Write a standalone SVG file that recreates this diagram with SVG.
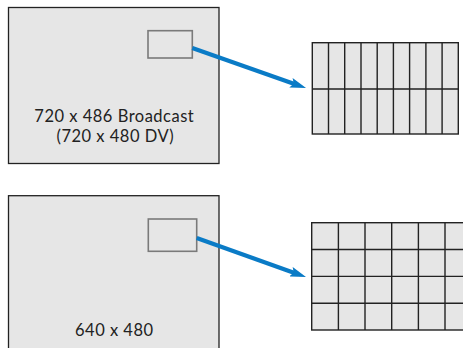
<svg xmlns="http://www.w3.org/2000/svg" width="463" height="348" viewBox="0 0 463 348">
<defs>
<style>
.frame{fill:#e6e6e6;stroke:#222;stroke-width:1.3}
.win{fill:#e6e6e6;stroke:#7a7a7a;stroke-width:1.6}
.cell{fill:#e6e6e6;stroke:#222;stroke-width:1.4}
.lbl{font-family:Lato,"Open Sans",sans-serif;font-size:16.5px;letter-spacing:0.5px;fill:#222;text-anchor:middle}
.arrow{stroke:#0a7bc6;stroke-width:4.2;fill:none}
</style>
<marker id="ah" viewBox="0 0 16 10" refX="6" refY="5" markerWidth="16" markerHeight="10" markerUnits="userSpaceOnUse" orient="auto">
<path d="M0,0 L16,5 L0,10 L3,5 Z" fill="#0a7bc6"/>
</marker>
</defs>
<g id="broadcast">
<rect class="frame" x="8.5" y="7.5" width="210.5" height="156"/>
<rect class="win" x="148" y="30.7" width="44.3" height="27.3"/>
<text class="lbl" x="114.3" y="121.7">720 x 486 Broadcast</text>
<text class="lbl" x="115.3" y="141.7">(720 x 480 DV)</text>
</g>
<g id="vga">
<rect class="frame" x="8.5" y="195.7" width="210.5" height="170"/>
<rect class="win" x="148.3" y="219" width="48.4" height="32.3"/>
<text class="lbl" x="114.3" y="335.7">640 x 480</text>
</g>
<g id="grid-nonsquare">
<rect class="cell" x="312.3" y="42.7" width="146" height="91.3"/>
<path class="cell" fill="none" d="M312.3,89H458.3 M328.5,42.7V134 M344.7,42.7V134 M361,42.7V134 M377.2,42.7V134 M393.4,42.7V134 M409.6,42.7V134 M425.9,42.7V134 M442.1,42.7V134"/>
</g>
<g id="grid-square">
<rect class="cell" x="311.7" y="222.7" width="160" height="107.3"/>
<path class="cell" fill="none" d="M311.7,249.5H471.7 M311.7,276.4H471.7 M311.7,303.2H471.7 M338.4,222.7V330 M365,222.7V330 M391.7,222.7V330 M418.4,222.7V330 M445,222.7V330"/>
</g>
<g id="connectors">
<line class="arrow" x1="192.3" y1="48" x2="296.6" y2="84.7" marker-end="url(#ah)"/>
<line class="arrow" x1="196.7" y1="238" x2="296.6" y2="273.7" marker-end="url(#ah)"/>
</g>
</svg>
